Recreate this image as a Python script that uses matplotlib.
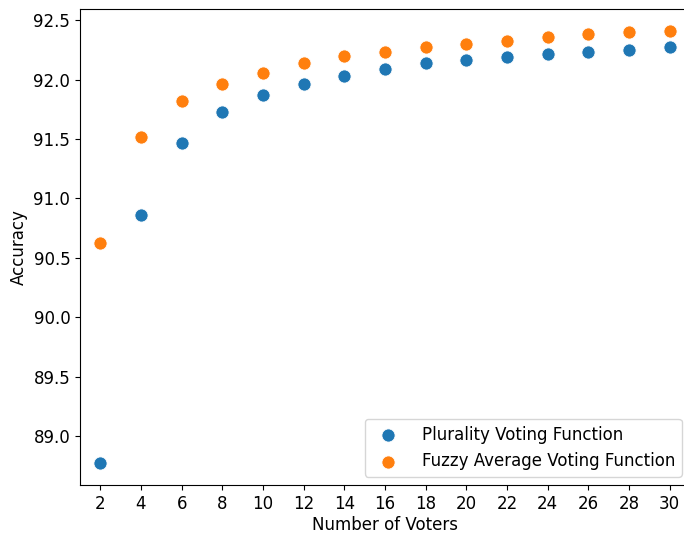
import numpy as np
import matplotlib
matplotlib.use("Agg")
import matplotlib.pyplot as plt

voters = [2, 4, 6, 8, 10, 12, 14, 16, 18, 20, 22, 24, 26, 28, 30]
plurality = [88.77, 90.865, 91.47, 91.725, 91.87, 91.965, 92.035, 92.093,
             92.137, 92.164, 92.19, 92.218, 92.236, 92.248, 92.277]
fuzzy = [90.625, 91.52, 91.82, 91.962, 92.058, 92.137, 92.199, 92.236,
         92.272, 92.302, 92.322, 92.36, 92.382, 92.401, 92.413]

fig = plt.figure(figsize=(6.84, 5.33), dpi=100)
# axes runs a little past the right edge, like the cropped original
ax = fig.add_axes([80/684, 48/533, 610/684, 476/533])

ax.scatter(voters, plurality, s=90, color="#1f77b4", edgecolors="white",
           linewidths=0.6, label="Plurality Voting Function")
ax.scatter(voters, fuzzy, s=90, color="#ff7f0e", edgecolors="white",
           linewidths=0.6, label="Fuzzy Average Voting Function")

ax.set_xticks(voters)
ax.set_xlim(1.0, 31.0)
ax.tick_params(labelsize=12)
ax.set_xlabel("Number of Voters", fontsize=12, labelpad=2.5)
ax.set_ylabel("Accuracy", fontsize=12)
ax.legend(loc="lower right", fontsize=12, handletextpad=1.0)

fig.savefig("out.png", dpi=100)
